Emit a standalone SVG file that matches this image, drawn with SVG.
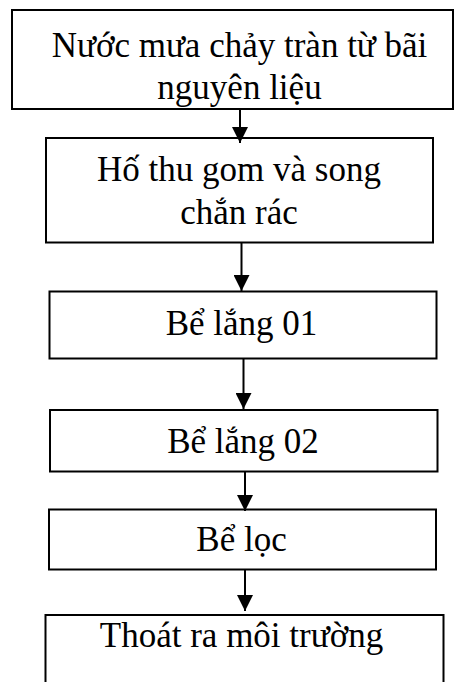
<svg xmlns="http://www.w3.org/2000/svg" width="454" height="682" viewBox="0 0 454 682">
  <style>
    .box { fill: #ffffff; stroke: #000000; stroke-width: 2; }
    .label { font-family: "Liberation Serif", "Times New Roman", serif; font-size: 35px; fill: #000000; text-anchor: middle; }
    .flow { stroke: #000000; stroke-width: 2; fill: none; marker-end: url(#head); }
  </style>
  <defs>
    <marker id="head" viewBox="0 0 16 16" refX="16" refY="8" markerWidth="16" markerHeight="16" markerUnits="userSpaceOnUse" orient="auto">
      <path d="M0,0 L16,8 L0,16 z" fill="#000000"/>
    </marker>
  </defs>
  <rect width="454" height="682" fill="#ffffff"/>

  <g id="n1">
    <rect class="box" x="12" y="10" width="441" height="99"/>
    <text class="label" x="239.5" y="57">Nước mưa chảy tràn từ bãi</text>
    <text class="label" x="239.5" y="99">nguyên liệu</text>
  </g>
  <g id="n2">
    <rect class="box" x="46" y="138" width="387" height="104.5"/>
    <text class="label" x="239" y="181">Hố thu gom và song</text>
    <text class="label" x="239" y="224">chắn rác</text>
  </g>
  <g id="n3">
    <rect class="box" x="49.5" y="291.5" width="387" height="67"/>
    <text class="label" x="241.5" y="335">Bể lắng 01</text>
  </g>
  <g id="n4">
    <rect class="box" x="50" y="410" width="387.5" height="61.5"/>
    <text class="label" x="243" y="453">Bể lắng 02</text>
  </g>
  <g id="n5">
    <rect class="box" x="49" y="509.5" width="387" height="60"/>
    <text class="label" x="241.5" y="550.5">Bể lọc</text>
  </g>
  <g id="n6">
    <rect class="box" x="45.5" y="615" width="398" height="100"/>
    <text class="label" x="241.5" y="646.5">Thoát ra môi trường</text>
  </g>

  <g id="connectors">
    <line class="flow" x1="240" y1="110" x2="240" y2="143"/>
    <line class="flow" x1="241.5" y1="243" x2="241.5" y2="291"/>
    <line class="flow" x1="243.5" y1="359" x2="243.5" y2="409"/>
    <line class="flow" x1="245" y1="472" x2="245" y2="511"/>
    <line class="flow" x1="245" y1="570" x2="245" y2="611"/>
  </g>
</svg>
